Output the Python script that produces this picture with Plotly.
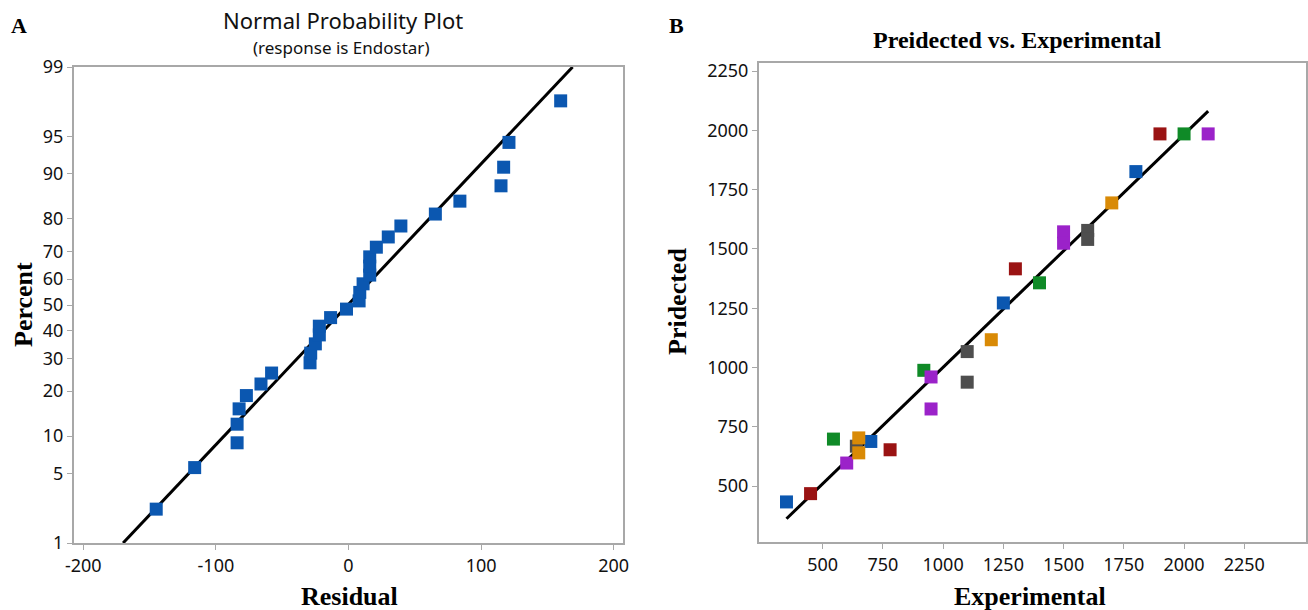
import plotly.graph_objects as go
from statistics import NormalDist

# ---------------- Panel A data: normal probability plot of residuals ----------------
residuals = [-145, -116, -84, -84, -82.5, -77, -66, -58, -29, -28.5, -25, -22, -22, -13.5,
             -1.5, 8, 8.5, 11, 16, 16, 16, 21, 30, 39.5, 65.5, 84, 115, 117, 121, 160]
percents = [2.3, 5.6, 8.9, 12.2, 15.5, 18.8, 22.0, 25.3, 28.6, 31.9, 35.2, 38.5, 41.8, 45.1,
            48.4, 51.6, 54.9, 58.2, 61.5, 64.8, 68.1, 71.4, 74.7, 78.0, 81.3, 84.5, 87.8,
            91.1, 94.4, 97.7]
fit_residual = [-170, 169]
fit_percent = [1, 99]
pct_ticks = [1, 5, 10, 20, 30, 40, 50, 60, 70, 80, 90, 95, 99]
res_ticks = [-200, -100, 0, 100, 200]

# ---------------- Panel B data: predicted vs experimental ----------------
exp_blue = [350, 700, 1250, 1800]
pred_blue = [433, 688, 1272, 1826]
exp_red = [450, 780, 1300, 1900]
pred_red = [468, 653, 1416, 1985]
exp_green = [545, 920, 1400, 2000]
pred_green = [698, 988, 1357, 1985]
exp_purple = [600, 950, 950, 1500, 1500, 2100]
pred_purple = [597, 960, 825, 1572, 1524, 1985]
exp_orange = [650, 650, 1200, 1700]
pred_orange = [703, 640, 1117, 1694]
exp_gray = [640, 1100, 1100, 1600, 1600]
pred_gray = [668, 1067, 938, 1578, 1540]
fit_exp = [350, 2100]
fit_pred = [362, 2081]
b_ticks = [500, 750, 1000, 1250, 1500, 1750, 2000, 2250]

colors = {"blue": "#0b57b0", "red": "#9a1313", "green": "#0f8a27",
          "purple": "#9b22c9", "orange": "#d98a06", "gray": "#4e4e4e"}

nd = NormalDist()
def z(p):
    return nd.inv_cdf(p / 100.0)

fig = go.Figure()

# Panel A
fig.add_trace(go.Scatter(x=fit_residual, y=[z(p) for p in fit_percent], mode="lines",
                         line=dict(color="black", width=3), xaxis="x", yaxis="y",
                         showlegend=False, hoverinfo="skip"))
fig.add_trace(go.Scatter(x=residuals, y=[z(p) for p in percents], mode="markers",
                         marker=dict(symbol="square", size=13, color="#0b57b0"),
                         xaxis="x", yaxis="y", showlegend=False))

# Panel B
fig.add_trace(go.Scatter(x=fit_exp, y=fit_pred, mode="lines",
                         line=dict(color="black", width=3), xaxis="x2", yaxis="y2",
                         showlegend=False, hoverinfo="skip"))
series = {"blue": (exp_blue, pred_blue), "red": (exp_red, pred_red),
          "green": (exp_green, pred_green), "purple": (exp_purple, pred_purple),
          "orange": (exp_orange, pred_orange), "gray": (exp_gray, pred_gray)}
for g in ["gray", "blue", "red", "green", "purple", "orange"]:
    xs, ys = series[g]
    fig.add_trace(go.Scatter(x=xs, y=ys, mode="markers",
                             marker=dict(symbol="square", size=13, color=colors[g]),
                             xaxis="x2", yaxis="y2", showlegend=False))

axcol = "#a8a8a8"
tickfont = dict(family="Noto Sans, Open Sans, sans-serif", size=18, color="#111111")
common = dict(showgrid=False, zeroline=False, showline=True, linecolor=axcol, linewidth=2,
              mirror=True, ticks="outside", ticklen=5, tickcolor=axcol, tickwidth=1,
              tickfont=tickfont, automargin=False)

fig.update_layout(
    width=1308, height=610,
    margin=dict(l=0, r=0, t=0, b=0, autoexpand=False),
    paper_bgcolor="white", plot_bgcolor="white",
    xaxis=dict(domain=[74/1308, 623/1308], range=[-207, 207], tickvals=res_ticks,
               ticktext=[str(v) for v in res_ticks], anchor="y", **common),
    yaxis=dict(domain=[1-543/610, 1-67/610], range=[z(1), z(99)],
               tickvals=[z(p) for p in pct_ticks], ticktext=[str(p) for p in pct_ticks],
               anchor="x", **common),
    xaxis2=dict(domain=[759/1308, 1306/1308], range=[236, 2506], tickvals=b_ticks,
                anchor="y2", **common),
    yaxis2=dict(domain=[1-542/610, 1-63/610], range=[264, 2284], tickvals=b_ticks,
                anchor="x2", **common),
)

serif = "Liberation Serif, Times New Roman, serif"
sans = "Noto Sans, Open Sans, sans-serif"
ann = [
    dict(text="<b>A</b>", x=19/1308, y=1-25/610, font=dict(family=serif, size=22, color="black")),
    dict(text="<b>B</b>", x=676/1308, y=1-25/610, font=dict(family=serif, size=22, color="black")),
    dict(text="Normal Probability Plot", x=343/1308, y=1-20/610, font=dict(family=sans, size=22, color="#111111")),
    dict(text="(response is Endostar)", x=341/1308, y=1-47/610, font=dict(family=sans, size=17, color="#111111")),
    dict(text="<b>Preidected vs. Experimental</b>", x=1017/1308, y=1-40/610, font=dict(family=serif, size=24, color="black")),
    dict(text="<b>Residual</b>", x=349/1308, y=1-596/610, font=dict(family=serif, size=26, color="black")),
    dict(text="<b>Experimental</b>", x=1030/1308, y=1-596/610, font=dict(family=serif, size=26, color="black")),
    dict(text="<b>Percent</b>", x=23/1308, y=1-305/610, textangle=-90, font=dict(family=serif, size=26, color="black")),
    dict(text="<b>Pridected</b>", x=677/1308, y=1-302/610, textangle=-90, font=dict(family=serif, size=26, color="black")),
]
for a in ann:
    a.update(xref="paper", yref="paper", showarrow=False, xanchor="center", yanchor="middle")
fig.update_layout(annotations=ann)

fig.write_html("out.html", config={"displayModeBar": False},
               post_script="document.body.style.margin='0';document.body.style.padding='0';"
                           "document.body.style.overflow='hidden';")
